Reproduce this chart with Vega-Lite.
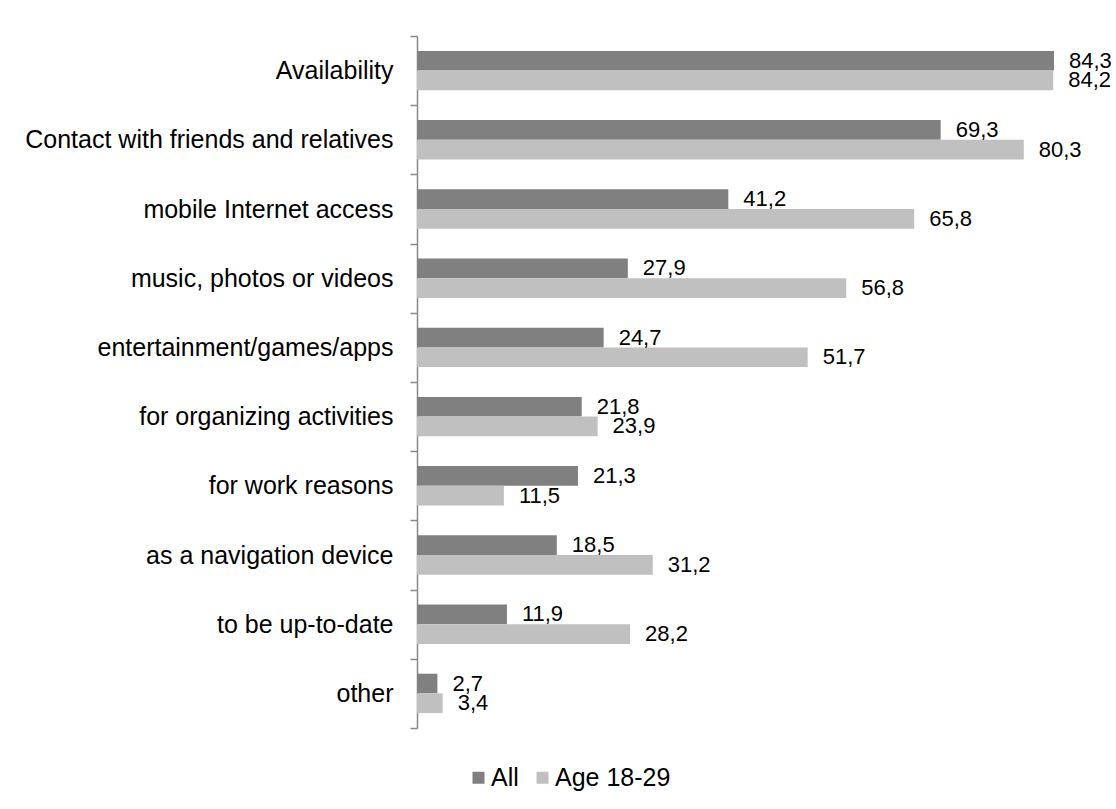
{
  "$schema": "https://vega.github.io/schema/vega-lite/v6.json",
  "autosize": {"type": "none"},
  "width": 637,
  "height": 692,
  "padding": {"left": 417, "top": 36, "right": 62, "bottom": 81},
  "background": "white",
  "config": {
    "view": {"stroke": null},
    "font": "Liberation Sans",
    "locale": {"number": {"decimal": ",", "thousands": ".", "grouping": [3], "currency": ["", " €"]}}
  },
  "data": {
    "values": [
      {"category": "Availability", "series": "All", "value": 84.3},
      {"category": "Availability", "series": "Age 18-29", "value": 84.2},
      {"category": "Contact with friends and relatives", "series": "All", "value": 69.3},
      {"category": "Contact with friends and relatives", "series": "Age 18-29", "value": 80.3},
      {"category": "mobile Internet access", "series": "All", "value": 41.2},
      {"category": "mobile Internet access", "series": "Age 18-29", "value": 65.8},
      {"category": "music, photos or videos", "series": "All", "value": 27.9},
      {"category": "music, photos or videos", "series": "Age 18-29", "value": 56.8},
      {"category": "entertainment/games/apps", "series": "All", "value": 24.7},
      {"category": "entertainment/games/apps", "series": "Age 18-29", "value": 51.7},
      {"category": "for organizing activities", "series": "All", "value": 21.8},
      {"category": "for organizing activities", "series": "Age 18-29", "value": 23.9},
      {"category": "for work reasons", "series": "All", "value": 21.3},
      {"category": "for work reasons", "series": "Age 18-29", "value": 11.5},
      {"category": "as a navigation device", "series": "All", "value": 18.5},
      {"category": "as a navigation device", "series": "Age 18-29", "value": 31.2},
      {"category": "to be up-to-date", "series": "All", "value": 11.9},
      {"category": "to be up-to-date", "series": "Age 18-29", "value": 28.2},
      {"category": "other", "series": "All", "value": 2.7},
      {"category": "other", "series": "Age 18-29", "value": 3.4}
    ]
  },
  "encoding": {
    "y": {
      "field": "category",
      "type": "nominal",
      "sort": null,
      "scale": {"paddingInner": 0, "paddingOuter": 0},
      "axis": {
        "title": null,
        "domainColor": "#898989",
        "domainWidth": 1.5,
        "tickColor": "#898989",
        "tickWidth": 1.5,
        "tickSize": 7,
        "tickBand": "extent",
        "labelPadding": 17,
        "labelFontSize": 25,
        "labelColor": "#000000",
        "labelFont": "Liberation Sans",
        "labelLimit": 500
      }
    },
    "yOffset": {
      "field": "series",
      "type": "nominal",
      "sort": ["All", "Age 18-29"],
      "scale": {"paddingInner": 0, "paddingOuter": 0.755}
    },
    "x": {
      "field": "value",
      "type": "quantitative",
      "scale": {"domain": [0, 84.3], "nice": false, "zero": true},
      "axis": null
    }
  },
  "layer": [
    {
      "mark": {"type": "bar"},
      "encoding": {
        "color": {
          "field": "series",
          "type": "nominal",
          "sort": ["All", "Age 18-29"],
          "scale": {"domain": ["All", "Age 18-29"], "range": ["#808080", "#C0C0C0"]},
          "legend": {
            "title": null,
            "orient": "none",
            "direction": "horizontal",
            "legendX": 49,
            "legendY": 729,
            "symbolType": "square",
            "symbolSize": 144,
            "symbolStrokeWidth": 0,
            "labelFontSize": 25,
            "labelFont": "Liberation Sans",
            "labelColor": "#000000",
            "labelOffset": 0,
            "columnPadding": 11,
            "padding": 0
          }
        }
      }
    },
    {
      "mark": {"type": "text", "align": "left", "baseline": "middle", "dx": 15, "fontSize": 22, "font": "Liberation Sans", "color": "#000000"},
      "encoding": {
        "text": {"field": "value", "type": "quantitative", "format": ".1f"}
      }
    }
  ]
}
